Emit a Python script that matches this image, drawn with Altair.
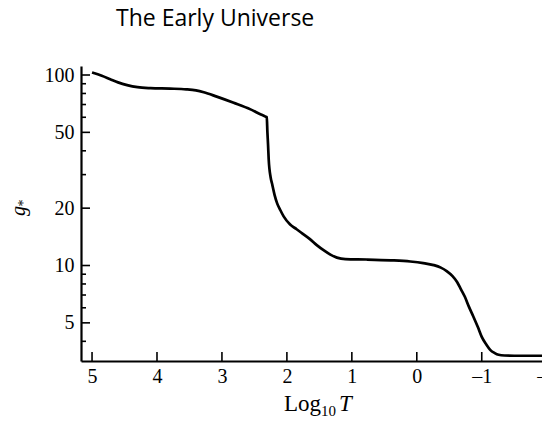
import altair as alt
import pandas as pd

# curve: log10 T  vs  g*
log_t = [5.0, 4.85, 4.72, 4.6, 4.46, 4.3, 4.1, 3.8, 3.55, 3.4, 3.28, 3.08, 2.82, 2.56,
         2.40, 2.33, 2.31, 2.30, 2.29, 2.28, 2.25, 2.23, 2.19, 2.15, 2.10, 2.05, 1.95,
         1.85, 1.77, 1.65, 1.54, 1.43, 1.33, 1.23, 1.10, 0.77, 0.40, 0.10, -0.10, -0.26,
         -0.37, -0.46, -0.55, -0.62, -0.68, -0.74, -0.80, -0.87, -0.94, -1.00, -1.07,
         -1.13, -1.20, -1.26, -1.35, -1.50, -2.02]
g_star = [103, 99, 95, 91.5, 88.5, 86.3, 85.3, 84.8, 84.1, 83, 81.2, 77, 71.5, 66,
          62, 60.5, 60, 50, 43, 36, 29, 27, 23.5, 21.2, 19.5, 18.1, 16.4,
          15.5, 14.8, 13.8, 12.8, 12.0, 11.4, 11.0, 10.8, 10.75, 10.65, 10.5, 10.3, 10.05,
          9.75, 9.35, 8.8, 8.2, 7.5, 6.85, 6.1, 5.4, 4.75, 4.22, 3.85,
          3.61, 3.47, 3.40, 3.37, 3.36, 3.36]

x_ticks = [5, 4, 3, 2, 1, 0, -1, -2]
y_major = [5, 10, 20, 50, 100]
y_minor = [4, 6, 7, 8, 9, 30, 40, 60, 70, 80, 90]

X_DOMAIN = [-2.02, 5.17]
Y_DOMAIN = [3.153, 111.5]
W, H = 467, 295
SERIF = "Liberation Serif"

xs = alt.Scale(domain=X_DOMAIN, reverse=True, nice=False, zero=False)
ys = alt.Scale(type="log", domain=Y_DOMAIN, nice=False)

df = pd.DataFrame({"logT": log_t, "g": g_star})

line = alt.Chart(df).mark_line(color="black", strokeWidth=2.7, interpolate="monotone").encode(
    x=alt.X("logT:Q", scale=xs,
            axis=alt.Axis(values=x_ticks, ticks=False, grid=False, domainColor="black",
                          domainWidth=2.2, labelFont=SERIF, labelFontSize=20,
                          labelColor="black", labelPadding=5, title=None, format="d",
                          labelExpr="replace(datum.label, '\u2212', '\u2013')")),
    y=alt.Y("g:Q", scale=ys,
            axis=alt.Axis(values=y_major, ticks=False, grid=False, domainColor="black",
                          domainWidth=2.2, labelFont=SERIF, labelFontSize=20,
                          labelColor="black", labelPadding=7, title=None, format="d")),
)

xt = alt.Chart(pd.DataFrame({"v": x_ticks})).mark_rule(color="black", strokeWidth=1.6).encode(
    x=alt.X("v:Q", scale=xs), y=alt.value(H), y2=alt.value(H - 9))
ymaj = alt.Chart(pd.DataFrame({"v": y_major})).mark_rule(color="black", strokeWidth=1.6).encode(
    y=alt.Y("v:Q", scale=ys), x=alt.value(0), x2=alt.value(9))
ymin = alt.Chart(pd.DataFrame({"v": y_minor})).mark_rule(color="black", strokeWidth=1.6).encode(
    y=alt.Y("v:Q", scale=ys), x=alt.value(0), x2=alt.value(5))


def label(txt, x, y, size, **kw):
    return alt.Chart(pd.DataFrame({"t": [txt]})).mark_text(
        fontSize=size, color="black", **kw).encode(
        x=alt.value(x), y=alt.value(y), text="t:N")


title = label("The Early Universe", 35, -40, 23, font="Open Sans", align="left", baseline="alphabetic")
xl1 = label("Log", 203, 345, 23, font=SERIF, align="left", baseline="alphabetic")
xl2 = label("10", 240, 350, 15, font=SERIF, align="left", baseline="alphabetic")
xl3 = label("T", 258, 345, 23, font=SERIF, fontStyle="italic", align="left", baseline="alphabetic")
yl1 = label("g", -56, 145, 20, font=SERIF, fontStyle="italic", angle=270, align="center", baseline="alphabetic")
yl2 = label("*", -53, 137, 14, font=SERIF, angle=270, align="center", baseline="alphabetic")

chart = alt.layer(line, xt, ymaj, ymin, title, xl1, xl2, xl3, yl1, yl2).properties(
    width=W, height=H,
    autosize=alt.AutoSizeParams(type="none"),
    padding={"left": 73, "top": 58, "right": -6, "bottom": 55},
).configure_view(stroke=None)

chart.save("out.html", embed_options={"renderer": "svg", "actions": False})
